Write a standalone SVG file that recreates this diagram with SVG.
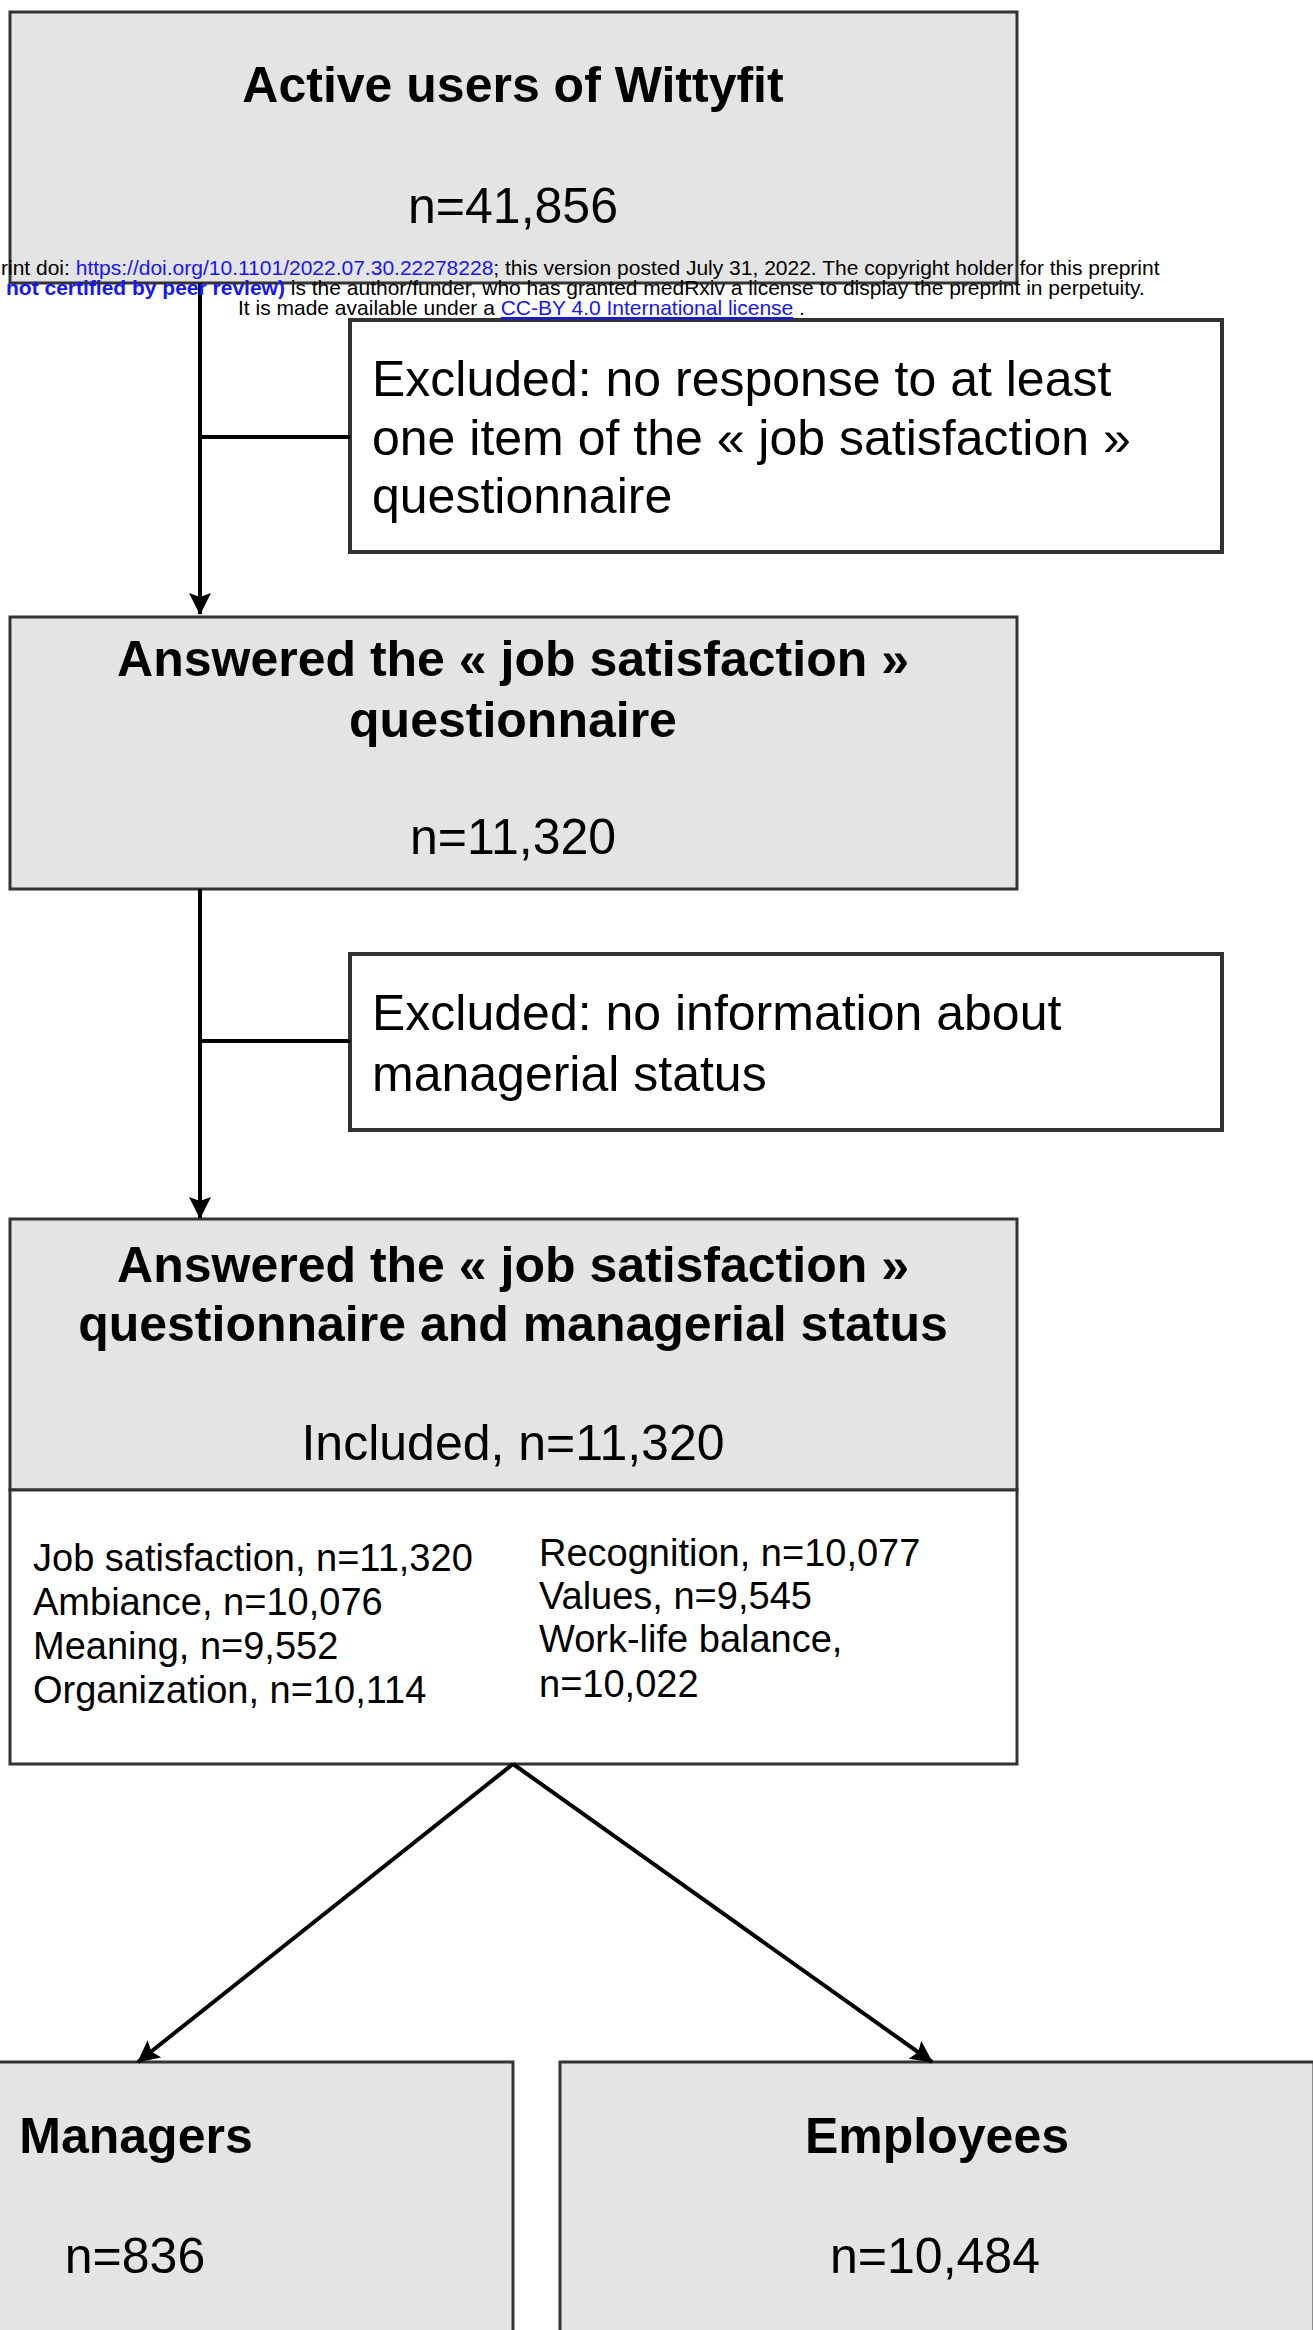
<svg xmlns="http://www.w3.org/2000/svg" width="1313" height="2330" viewBox="0 0 1313 2330">
<style>
.box{fill:#e4e4e4;stroke:#333;stroke-width:3}
.wbox{fill:#fff;stroke:#333;stroke-width:4}
.t{font-family:"Liberation Sans",Arial,sans-serif;fill:#000}
.big{font-size:50px}
.bold{font-weight:bold}
.ex{font-size:50px}
.sm{font-size:38px}
.hd{font-family:"Liberation Sans",Arial,sans-serif;font-size:21px;fill:#000}
.lk{fill:#1515ff}
.conn{stroke:#000;stroke-width:4;fill:none}
</style>
<defs>
<marker id="ah" viewBox="0 0 22 22" refX="21" refY="11" markerWidth="22" markerHeight="22" markerUnits="userSpaceOnUse" orient="auto">
<path d="M0,0 L22,11 L0,22 L4,11 z" fill="#000"/>
</marker>
</defs>
<rect width="1313" height="2330" fill="#fff"/>

<g id="active-users">
<rect class="box" x="10" y="12" width="1007" height="271"/>
<text class="t big bold" x="513" y="102" text-anchor="middle">Active users of Wittyfit</text>
<text class="t big" x="513" y="223" text-anchor="middle">n=41,856</text>
</g>

<g id="excluded-1">
<rect class="wbox" x="350" y="320" width="872" height="232"/>
<text class="t ex" x="372" y="396">Excluded: no response to at least</text>
<text class="t ex" x="372" y="455">one item of the « job satisfaction »</text>
<text class="t ex" x="372" y="513">questionnaire</text>
</g>

<g id="answered-questionnaire">
<rect class="box" x="10" y="617" width="1007" height="272"/>
<text class="t big bold" x="513" y="676" text-anchor="middle">Answered the « job satisfaction »</text>
<text class="t big bold" x="513" y="737" text-anchor="middle">questionnaire</text>
<text class="t big" x="513" y="854" text-anchor="middle">n=11,320</text>
</g>

<g id="excluded-2">
<rect class="wbox" x="350" y="954" width="872" height="176"/>
<text class="t ex" x="372" y="1030">Excluded: no information about</text>
<text class="t ex" x="372" y="1091">managerial status</text>
</g>

<g id="included">
<rect class="box" x="10" y="1219" width="1007" height="271"/>
<rect fill="#fff" stroke="#333" stroke-width="3" x="10" y="1490" width="1007" height="274"/>
<text class="t big bold" x="513" y="1282" text-anchor="middle">Answered the « job satisfaction »</text>
<text class="t big bold" x="513" y="1341" text-anchor="middle">questionnaire and managerial status</text>
<text class="t big" x="513" y="1460" text-anchor="middle">Included, n=11,320</text>
<text class="t sm" x="33" y="1571">Job satisfaction, n=11,320</text>
<text class="t sm" x="33" y="1615">Ambiance, n=10,076</text>
<text class="t sm" x="33" y="1659">Meaning, n=9,552</text>
<text class="t sm" x="33" y="1703">Organization, n=10,114</text>
<text class="t sm" x="539" y="1566">Recognition, n=10,077</text>
<text class="t sm" x="539" y="1609">Values, n=9,545</text>
<text class="t sm" x="539" y="1652">Work-life balance,</text>
<text class="t sm" x="539" y="1697">n=10,022</text>
</g>

<g id="managers">
<rect class="box" x="-241" y="2062" width="754" height="300"/>
<text class="t big bold" x="136" y="2153" text-anchor="middle">Managers</text>
<text class="t big" x="135" y="2273" text-anchor="middle">n=836</text>
</g>

<g id="employees">
<rect class="box" x="560" y="2062" width="754" height="300"/>
<text class="t big bold" x="937" y="2153" text-anchor="middle">Employees</text>
<text class="t big" x="935" y="2273" text-anchor="middle">n=10,484</text>
</g>

<g id="connectors">
<line class="conn" x1="200" y1="283" x2="200" y2="614" marker-end="url(#ah)"/>
<line class="conn" x1="200" y1="437" x2="350" y2="437" stroke-width="5"/>
<line class="conn" x1="200" y1="889" x2="200" y2="1218" marker-end="url(#ah)"/>
<line class="conn" x1="200" y1="1041" x2="350" y2="1041" stroke-width="5"/>
<line class="conn" x1="513" y1="1764" x2="138" y2="2062" marker-end="url(#ah)"/>
<line class="conn" x1="513" y1="1764" x2="932" y2="2062" marker-end="url(#ah)"/>
</g>

<g id="preprint-header">
<text class="hd" x="1" y="275">rint doi: <tspan class="lk">https://doi.org/10.1101/2022.07.30.22278228</tspan>; this version posted July 31, 2022. The copyright holder for this preprint</text>
<text class="hd" x="6" y="295"><tspan class="lk" font-weight="bold">not certified by peer review)</tspan> is the author/funder, who has granted medRxiv a license to display the preprint in perpetuity.</text>
<text class="hd" x="238" y="315">It is made available under a <tspan class="lk" text-decoration="underline">CC-BY 4.0 International license</tspan> .</text>
</g>
</svg>
